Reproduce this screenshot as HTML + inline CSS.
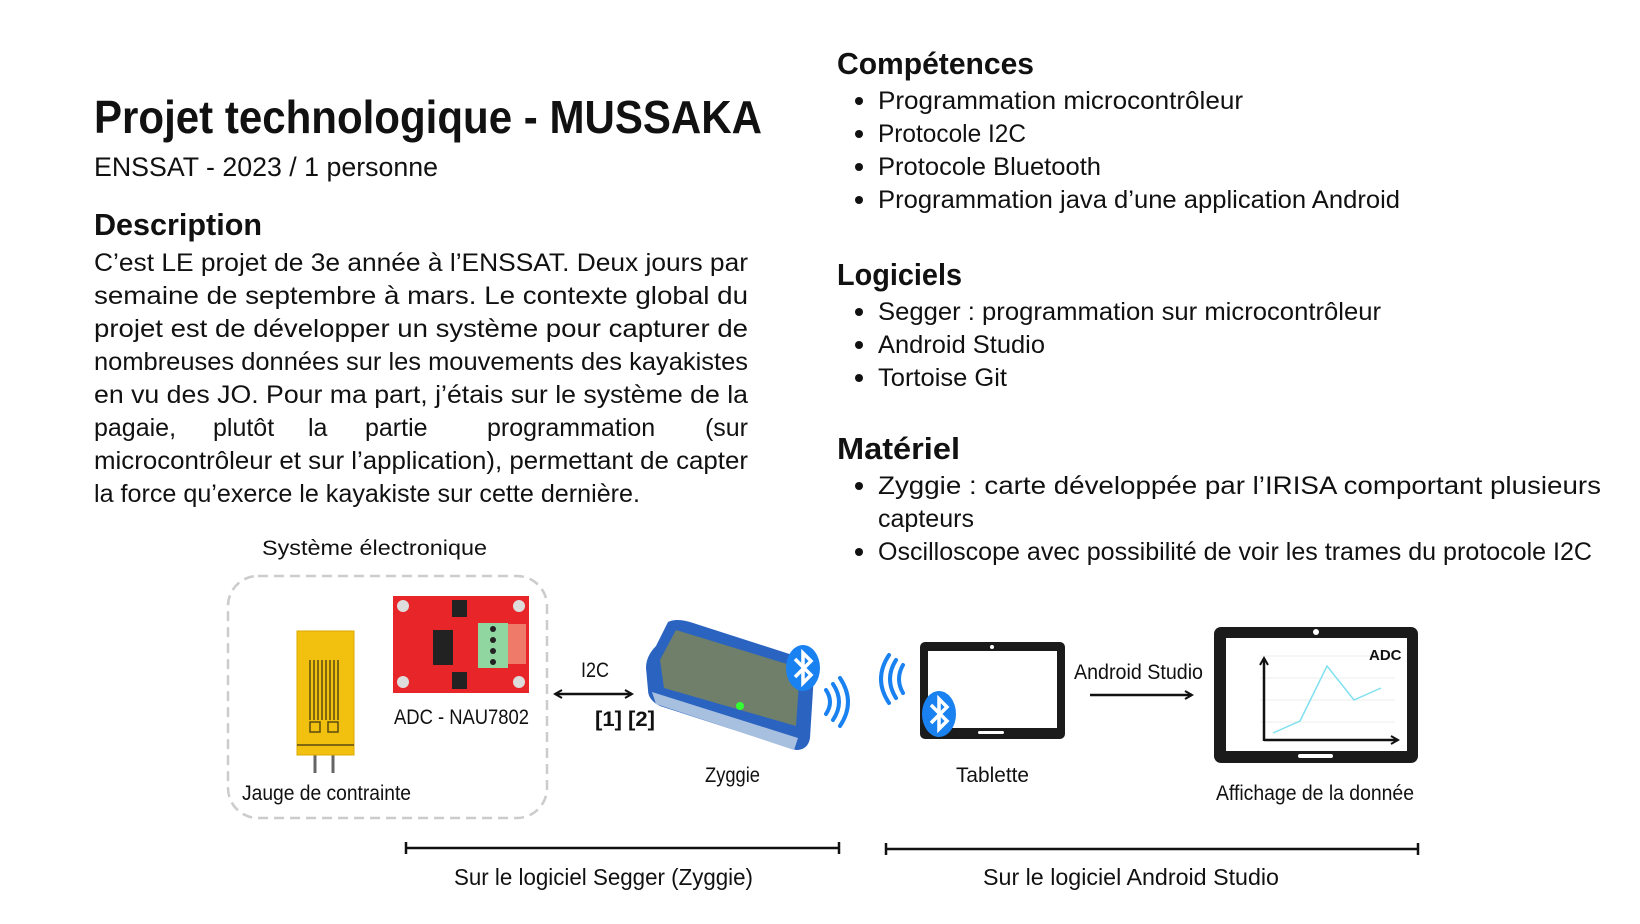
<!DOCTYPE html>
<html><head><meta charset="utf-8"><style>
html,body{margin:0;padding:0;background:#fff;width:1640px;height:924px;overflow:hidden}
svg{display:block}
text{font-family:"Liberation Sans",sans-serif;fill:#111}
.b{font-weight:bold}
</style></head><body>
<svg width="1640" height="924" viewBox="0 0 1640 924" xmlns="http://www.w3.org/2000/svg">
<defs>
<marker id="ah" markerWidth="10" markerHeight="10" refX="8" refY="5" orient="auto" markerUnits="userSpaceOnUse"><path d="M1,1 L8,5 L1,9" fill="none" stroke="#111" stroke-width="2"/></marker>
<marker id="ahs" markerWidth="10" markerHeight="10" refX="2" refY="5" orient="auto" markerUnits="userSpaceOnUse"><path d="M9,1 L2,5 L9,9" fill="none" stroke="#111" stroke-width="2"/></marker>
<g id="bt"><ellipse cx="0" cy="0" rx="17" ry="23" fill="#1a82f0"/><path d="M-8,-9 L8,7 L0,15 L0,-15 L8,-7 L-8,9" fill="none" stroke="#fff" stroke-width="3.5" stroke-linejoin="miter"/></g>
</defs>

<!-- Left column -->
<text class="b" x="94" y="133" font-size="46" textLength="668" lengthAdjust="spacingAndGlyphs">Projet technologique - MUSSAKA</text>
<text x="94" y="176" font-size="27" textLength="344" lengthAdjust="spacingAndGlyphs">ENSSAT - 2023 / 1 personne</text>
<text class="b" x="94" y="235" font-size="31" textLength="168" lengthAdjust="spacingAndGlyphs">Description</text>
<g font-size="25">
<text x="94" y="271" textLength="654" lengthAdjust="spacingAndGlyphs">C’est LE projet de 3e année à l’ENSSAT. Deux jours par</text>
<text x="94" y="304" textLength="654" lengthAdjust="spacingAndGlyphs">semaine de septembre à mars. Le contexte global du</text>
<text x="94" y="337" textLength="654" lengthAdjust="spacingAndGlyphs">projet est de développer un système pour capturer de</text>
<text x="94" y="370" textLength="654" lengthAdjust="spacingAndGlyphs">nombreuses données sur les mouvements des kayakistes</text>
<text x="94" y="403" textLength="654" lengthAdjust="spacingAndGlyphs">en vu des JO. Pour ma part, j’étais sur le système de la</text>
<text x="94" y="436">pagaie,</text><text x="213" y="436">plutôt</text><text x="308" y="436">la</text><text x="365" y="436">partie</text><text x="487" y="436">programmation</text><text x="748" y="436" text-anchor="end">(sur</text>
<text x="94" y="469" textLength="654" lengthAdjust="spacingAndGlyphs">microcontrôleur et sur l’application), permettant de capter</text>
<text x="94" y="502" textLength="546" lengthAdjust="spacingAndGlyphs">la force qu’exerce le kayakiste sur cette dernière.</text>
</g>

<!-- Right column -->
<text class="b" x="837" y="74" font-size="31" textLength="197" lengthAdjust="spacingAndGlyphs">Compétences</text>
<g font-size="25">
<circle cx="859" cy="101" r="4" fill="#111"/><text x="878" y="109" textLength="365" lengthAdjust="spacingAndGlyphs">Programmation microcontrôleur</text>
<circle cx="859" cy="134" r="4" fill="#111"/><text x="878" y="142" textLength="148" lengthAdjust="spacingAndGlyphs">Protocole I2C</text>
<circle cx="859" cy="167" r="4" fill="#111"/><text x="878" y="175" textLength="223" lengthAdjust="spacingAndGlyphs">Protocole Bluetooth</text>
<circle cx="859" cy="200" r="4" fill="#111"/><text x="878" y="208" textLength="522" lengthAdjust="spacingAndGlyphs">Programmation java d’une application Android</text>
</g>
<text class="b" x="837" y="285" font-size="31" textLength="125" lengthAdjust="spacingAndGlyphs">Logiciels</text>
<g font-size="25">
<circle cx="859" cy="312" r="4" fill="#111"/><text x="878" y="320" textLength="503" lengthAdjust="spacingAndGlyphs">Segger : programmation sur microcontrôleur</text>
<circle cx="859" cy="345" r="4" fill="#111"/><text x="878" y="353" textLength="167" lengthAdjust="spacingAndGlyphs">Android Studio</text>
<circle cx="859" cy="378" r="4" fill="#111"/><text x="878" y="386" textLength="129" lengthAdjust="spacingAndGlyphs">Tortoise Git</text>
</g>
<text class="b" x="837" y="459" font-size="31" textLength="123" lengthAdjust="spacingAndGlyphs">Matériel</text>
<g font-size="25">
<circle cx="859" cy="486" r="4" fill="#111"/><text x="878" y="494" textLength="723" lengthAdjust="spacingAndGlyphs">Zyggie  :  carte  développée  par  l’IRISA  comportant  plusieurs</text>
<text x="878" y="527" textLength="96" lengthAdjust="spacingAndGlyphs">capteurs</text>
<circle cx="859" cy="552" r="4" fill="#111"/><text x="878" y="560" textLength="714" lengthAdjust="spacingAndGlyphs">Oscilloscope avec possibilité de voir les trames du protocole I2C</text>
</g>

<!-- Diagram -->
<g font-size="21">
<text x="262" y="555" textLength="225" lengthAdjust="spacingAndGlyphs">Système électronique</text>
<rect x="228" y="576" width="319" height="242" rx="30" fill="none" stroke="#ccc" stroke-width="2.5" stroke-dasharray="10,6"/>

<!-- strain gauge -->
<line x1="315" y1="740" x2="315" y2="773" stroke="#666" stroke-width="3"/>
<line x1="333" y1="740" x2="333" y2="773" stroke="#666" stroke-width="3"/>
<rect x="297" y="631" width="57" height="124" fill="#f2c10f" stroke="#d9a900"/>
<g stroke="#5a4a10" stroke-width="1.5" fill="none">
<path d="M310,660 V720 M314,660 V720 M318,660 V720 M322,660 V720 M326,660 V720 M330,660 V720 M334,660 V720 M338,660 V720"/>
<rect x="310" y="722" width="10" height="10"/><rect x="328" y="722" width="10" height="10"/>
<line x1="297" y1="745" x2="354" y2="745"/>
</g>
<text x="242" y="800" textLength="169" lengthAdjust="spacingAndGlyphs">Jauge de contrainte</text>

<!-- ADC board -->
<rect x="393" y="596" width="136" height="97" fill="#e8262a"/>
<rect x="478" y="623" width="30" height="45" fill="#8fd6a0"/>
<g fill="#222"><circle cx="493" cy="629" r="3"/><circle cx="493" cy="640" r="3"/><circle cx="493" cy="651" r="3"/><circle cx="493" cy="662" r="3"/>
<rect x="433" y="630" width="20" height="35"/><rect x="452" y="600" width="15" height="17"/><rect x="452" y="672" width="15" height="17"/></g>
<g fill="#ddd"><circle cx="403" cy="606" r="6"/><circle cx="519" cy="606" r="6"/><circle cx="403" cy="682" r="6"/><circle cx="519" cy="682" r="6"/></g>
<rect x="508" y="624" width="18" height="40" fill="#f07a6a"/>
<text x="394" y="724" textLength="135" lengthAdjust="spacingAndGlyphs">ADC - NAU7802</text>

<!-- I2C arrow -->
<text x="581" y="677" textLength="28" lengthAdjust="spacingAndGlyphs">I2C</text>
<line x1="555" y1="694" x2="632" y2="694" stroke="#111" stroke-width="2.5" marker-end="url(#ah)" marker-start="url(#ahs)"/>
<text class="b" x="595" y="726" textLength="60" lengthAdjust="spacingAndGlyphs">[1] [2]</text>

<!-- Zyggie -->
<path d="M668,622 Q676,618 690,622 L808,660 Q816,664 814,674 L810,738 Q808,750 796,750 L660,706 Q648,700 648,690 L646,668 Q646,656 656,646 Z" fill="#2a64c0"/>
<path d="M676,630 L800,668 L796,726 L664,688 L660,660 Z" fill="#6f7f6a"/>
<path d="M652,692 L798,738 L794,750 L656,704 Z" fill="#a8c0e0"/>
<circle cx="740" cy="706" r="4" fill="#3f3"/>
<use href="#bt" x="803" y="668"/>
<path d="M826,690 q8,12 0,24 M833,684 q12,18 0,36 M840,678 q16,24 0,48" fill="none" stroke="#1a82f0" stroke-width="4" stroke-linecap="round"/>
<text x="705" y="782" textLength="55" lengthAdjust="spacingAndGlyphs">Zyggie</text>

<!-- Tablet -->
<path d="M903,665 q-8,14 0,28 M896,660 q-12,19 0,38 M889,655 q-16,24 0,48" fill="none" stroke="#1a82f0" stroke-width="4" stroke-linecap="round"/>
<rect x="920" y="642" width="145" height="97" rx="5" fill="#1b1b1b"/>
<rect x="928" y="651" width="129" height="77" fill="#fff"/>
<circle cx="992" cy="647" r="2" fill="#fff"/>
<rect x="978" y="731" width="26" height="3" rx="1.5" fill="#fff"/>
<use href="#bt" x="939" y="714"/>
<text x="956" y="782" textLength="73" lengthAdjust="spacingAndGlyphs">Tablette</text>

<!-- Android arrow -->
<text x="1074" y="679" textLength="129" lengthAdjust="spacingAndGlyphs">Android Studio</text>
<line x1="1090" y1="695" x2="1192" y2="695" stroke="#111" stroke-width="2.5" marker-end="url(#ah)"/>

<!-- Display tablet -->
<rect x="1214" y="627" width="204" height="136" rx="7" fill="#1b1b1b"/>
<rect x="1226" y="638" width="181" height="113" fill="#fff"/>
<circle cx="1316" cy="632" r="3" fill="#fff"/>
<rect x="1298" y="754" width="35" height="4" rx="2" fill="#fff"/>
<g stroke="#eee" stroke-width="1"><line x1="1260" y1="656" x2="1395" y2="656"/><line x1="1260" y1="678" x2="1395" y2="678"/><line x1="1260" y1="700" x2="1395" y2="700"/><line x1="1260" y1="722" x2="1395" y2="722"/></g>
<line x1="1264" y1="741" x2="1264" y2="658" stroke="#111" stroke-width="2.5" marker-end="url(#ah)"/>
<line x1="1264" y1="740" x2="1398" y2="740" stroke="#111" stroke-width="2.5" marker-end="url(#ah)"/>
<polyline points="1273,733 1300,721 1327,666 1354,700 1381,688" fill="none" stroke="#7fe0f0" stroke-width="1.5"/>
<text class="b" x="1369" y="660" font-size="15" fill="#111">ADC</text>
<text x="1216" y="800" textLength="198" lengthAdjust="spacingAndGlyphs">Affichage de la donnée</text>

<!-- Bottom scopes -->
<line x1="406" y1="848" x2="839" y2="848" stroke="#111" stroke-width="2.5"/>
<line x1="406" y1="842" x2="406" y2="854" stroke="#111" stroke-width="2.5"/>
<line x1="839" y1="842" x2="839" y2="854" stroke="#111" stroke-width="2.5"/>
<line x1="886" y1="849" x2="1418" y2="849" stroke="#111" stroke-width="2.5"/>
<line x1="886" y1="843" x2="886" y2="855" stroke="#111" stroke-width="2.5"/>
<line x1="1418" y1="843" x2="1418" y2="855" stroke="#111" stroke-width="2.5"/>
<text x="454" y="885" font-size="23" textLength="299" lengthAdjust="spacingAndGlyphs">Sur le logiciel Segger (Zyggie)</text>
<text x="983" y="885" font-size="23" textLength="296" lengthAdjust="spacingAndGlyphs">Sur le logiciel Android Studio</text>
</g>
</svg>
</body></html>
